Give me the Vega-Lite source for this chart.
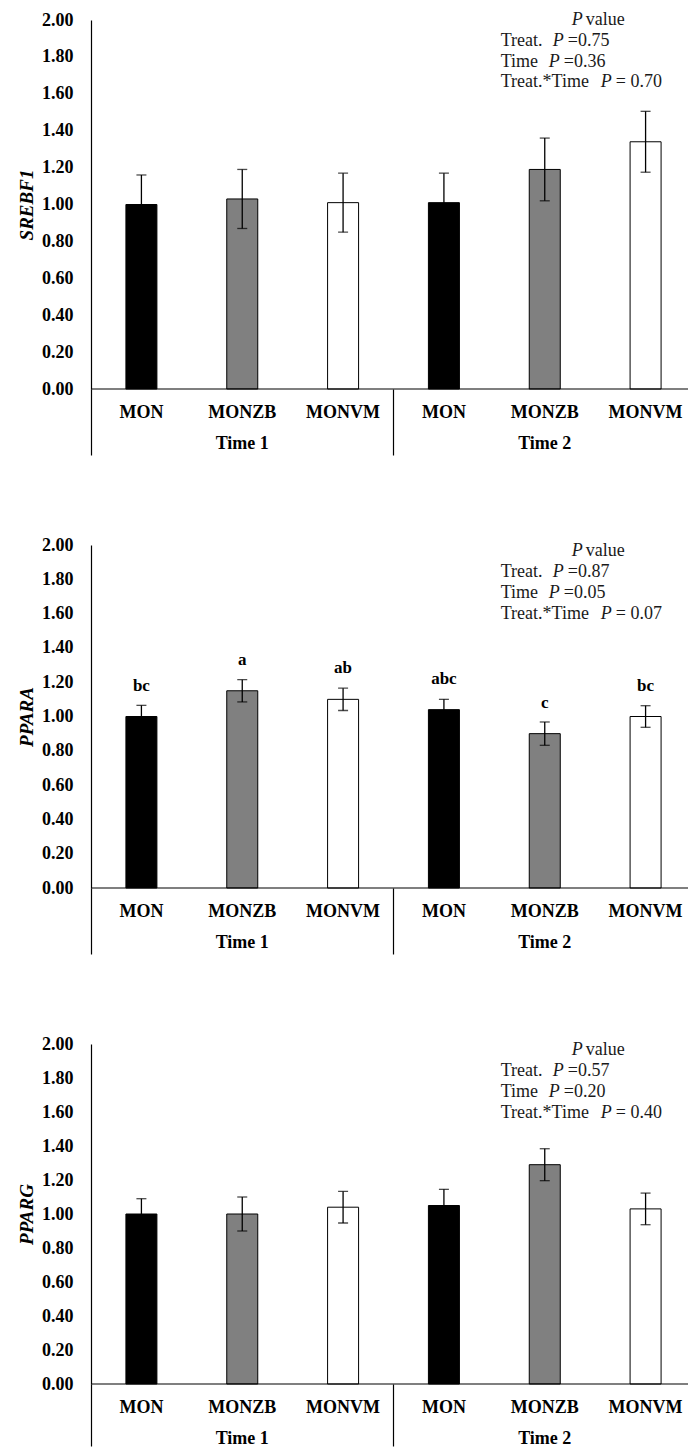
{
  "$schema": "https://vega.github.io/schema/vega-lite/v6.json",
  "background": "white",
  "padding": {"left": 17, "top": 11, "right": 0, "bottom": 0},
  "spacing": 80,
  "config": {"view": {"stroke": null}, "font": "Liberation Serif", "axisY": {"labelOverlap": false, "tickCount": 12}},
  "datasets": {
    "bars": [
      {"gene": "SREBF1", "time": "Time 1", "trt": "MON", "key": "1|MON", "mean": 1.00, "se": 0.16, "letter": ""},
      {"gene": "SREBF1", "time": "Time 1", "trt": "MONZB", "key": "1|MONZB", "mean": 1.03, "se": 0.16, "letter": ""},
      {"gene": "SREBF1", "time": "Time 1", "trt": "MONVM", "key": "1|MONVM", "mean": 1.01, "se": 0.16, "letter": ""},
      {"gene": "SREBF1", "time": "Time 2", "trt": "MON", "key": "2|MON", "mean": 1.01, "se": 0.16, "letter": ""},
      {"gene": "SREBF1", "time": "Time 2", "trt": "MONZB", "key": "2|MONZB", "mean": 1.19, "se": 0.17, "letter": ""},
      {"gene": "SREBF1", "time": "Time 2", "trt": "MONVM", "key": "2|MONVM", "mean": 1.34, "se": 0.165, "letter": ""},
      {"gene": "PPARA", "time": "Time 1", "trt": "MON", "key": "1|MON", "mean": 1.00, "se": 0.065, "letter": "bc"},
      {"gene": "PPARA", "time": "Time 1", "trt": "MONZB", "key": "1|MONZB", "mean": 1.15, "se": 0.065, "letter": "a"},
      {"gene": "PPARA", "time": "Time 1", "trt": "MONVM", "key": "1|MONVM", "mean": 1.10, "se": 0.065, "letter": "ab"},
      {"gene": "PPARA", "time": "Time 2", "trt": "MON", "key": "2|MON", "mean": 1.04, "se": 0.06, "letter": "abc"},
      {"gene": "PPARA", "time": "Time 2", "trt": "MONZB", "key": "2|MONZB", "mean": 0.90, "se": 0.068, "letter": "c"},
      {"gene": "PPARA", "time": "Time 2", "trt": "MONVM", "key": "2|MONVM", "mean": 1.00, "se": 0.063, "letter": "bc"},
      {"gene": "PPARG", "time": "Time 1", "trt": "MON", "key": "1|MON", "mean": 1.00, "se": 0.09, "letter": ""},
      {"gene": "PPARG", "time": "Time 1", "trt": "MONZB", "key": "1|MONZB", "mean": 1.00, "se": 0.10, "letter": ""},
      {"gene": "PPARG", "time": "Time 1", "trt": "MONVM", "key": "1|MONVM", "mean": 1.04, "se": 0.093, "letter": ""},
      {"gene": "PPARG", "time": "Time 2", "trt": "MON", "key": "2|MON", "mean": 1.05, "se": 0.095, "letter": ""},
      {"gene": "PPARG", "time": "Time 2", "trt": "MONZB", "key": "2|MONZB", "mean": 1.29, "se": 0.094, "letter": ""},
      {"gene": "PPARG", "time": "Time 2", "trt": "MONVM", "key": "2|MONVM", "mean": 1.03, "se": 0.093, "letter": ""}
    ],
    "ann": [
      {"gene": "SREBF1", "t1": "=0.75", "t2": "=0.36", "t3": "= 0.70"},
      {"gene": "PPARA", "t1": "=0.87", "t2": "=0.05", "t3": "= 0.07"},
      {"gene": "PPARG", "t1": "=0.57", "t2": "=0.20", "t3": "= 0.40"}
    ],
    "base": [{}]
  },
  "vconcat": [
    {
      "width": 597, "height": 369,
      "resolve": {"scale": {"x": "independent"}, "axis": {"x": "independent"}},
      "layer": [
        {
          "layer": [
            {
              "data": {"name": "bars"},
              "transform": [{"filter": "datum.gene === 'SREBF1'"}],
              "encoding": {
                "x": {"field": "key", "type": "nominal", "scale": {"domain": ["1|MON","1|MONZB","1|MONVM","2|MON","2|MONZB","2|MONVM"], "range": [0, 605], "paddingInner": 0, "paddingOuter": 0},
                  "axis": {"orient": "bottom", "title": null, "domain": false, "ticks": false, "labelPadding": 14, "labelAngle": 0, "labelOverlap": false, "labelExpr": "split(datum.label, '|')[1]", "labelFont": "Liberation Serif", "labelFontWeight": "bold", "labelFontSize": 18, "labelColor": "black"}},
                "y": {"field": "mean", "type": "quantitative", "scale": {"domain": [0, 2], "nice": false},
                  "axis": {"title": "SREBF1", "titleFont": "Liberation Serif", "titleFontStyle": "italic", "titleFontWeight": "bold", "titleFontSize": 19, "titleColor": "black", "titlePadding": 5, "values": [0,0.2,0.4,0.6,0.8,1,1.2,1.4,1.6,1.8,2], "tickCount": 12, "format": ".2f", "labelFont": "Liberation Serif", "labelFontWeight": "bold", "labelFontSize": 18, "labelColor": "black", "labelPadding": 18, "labelOverlap": false, "ticks": false, "tickSize": 0, "grid": false, "domainColor": "black", "domainWidth": 1.2}}
              },
              "layer": [
                {"mark": {"type": "bar", "stroke": "black", "strokeWidth": 1, "width": 31},
                 "encoding": {"color": {"field": "trt", "type": "nominal", "scale": {"domain": ["MON","MONZB","MONVM"], "range": ["#000000","#808080","#ffffff"]}, "legend": null}}},
                {"mark": {"type": "errorbar", "color": "black", "ticks": {"size": 10, "thickness": 1.3, "color": "black"}, "rule": {"strokeWidth": 1.3, "color": "black"}},
                 "encoding": {"yError": {"field": "se"}}},
                {"transform": [{"filter": "datum.letter"}],
                 "mark": {"type": "text", "dy": -31, "font": "Liberation Serif", "fontWeight": "bold", "fontSize": 17, "color": "black", "baseline": "middle"},
                 "encoding": {"text": {"field": "letter"}}}
              ]
            },
            {
              "data": {"name": "base"},
              "mark": {"type": "rule", "color": "black", "strokeWidth": 1.2},
              "encoding": {"y": {"datum": 0, "type": "quantitative"}}
            },
            {
              "data": {"name": "ann"},
              "transform": [{"filter": "datum.gene === 'SREBF1'"}],
              "encoding": {
                "x": {"datum": "2|MONZB", "type": "nominal"},
                "y": {"datum": 2, "type": "quantitative"}
              },
              "layer": [
                {"mark": {"type": "text", "text": "P", "fontStyle": "italic", "dx": 27, "dy": 0, "align": "left", "baseline": "middle", "font": "Liberation Serif", "fontSize": 18, "color": "#1a1a1a"}},
                {"mark": {"type": "text", "text": "value", "dx": 41, "dy": 0, "align": "left", "baseline": "middle", "font": "Liberation Serif", "fontSize": 18, "color": "#1a1a1a"}},
                {"mark": {"type": "text", "text": "Treat.", "dx": -44, "dy": 20.5, "align": "left", "baseline": "middle", "font": "Liberation Serif", "fontSize": 18, "color": "#1a1a1a"}},
                {"mark": {"type": "text", "text": "P", "fontStyle": "italic", "dx": 8, "dy": 20.5, "align": "left", "baseline": "middle", "font": "Liberation Serif", "fontSize": 18, "color": "#1a1a1a"}},
                {"mark": {"type": "text", "dx": 23, "dy": 20.5, "align": "left", "baseline": "middle", "font": "Liberation Serif", "fontSize": 18, "color": "#1a1a1a"}, "encoding": {"text": {"field": "t1"}}},
                {"mark": {"type": "text", "text": "Time", "dx": -44, "dy": 41.5, "align": "left", "baseline": "middle", "font": "Liberation Serif", "fontSize": 18, "color": "#1a1a1a"}},
                {"mark": {"type": "text", "text": "P", "fontStyle": "italic", "dx": 4, "dy": 41.5, "align": "left", "baseline": "middle", "font": "Liberation Serif", "fontSize": 18, "color": "#1a1a1a"}},
                {"mark": {"type": "text", "dx": 19, "dy": 41.5, "align": "left", "baseline": "middle", "font": "Liberation Serif", "fontSize": 18, "color": "#1a1a1a"}, "encoding": {"text": {"field": "t2"}}},
                {"mark": {"type": "text", "text": "Treat.*Time", "dx": -44, "dy": 62, "align": "left", "baseline": "middle", "font": "Liberation Serif", "fontSize": 18, "color": "#1a1a1a"}},
                {"mark": {"type": "text", "text": "P", "fontStyle": "italic", "dx": 56, "dy": 62, "align": "left", "baseline": "middle", "font": "Liberation Serif", "fontSize": 18, "color": "#1a1a1a"}},
                {"mark": {"type": "text", "dx": 71, "dy": 62, "align": "left", "baseline": "middle", "font": "Liberation Serif", "fontSize": 18, "color": "#1a1a1a"}, "encoding": {"text": {"field": "t3"}}}
              ]
            }
          ]
        },
        {
          "data": {"name": "bars"},
          "transform": [{"filter": "datum.gene === 'SREBF1'"}],
          "mark": {"type": "rule", "opacity": 0},
          "encoding": {
            "x": {"field": "time", "type": "nominal", "scale": {"domain": ["Time 1", "Time 2"], "range": [0, 605], "paddingInner": 0, "paddingOuter": 0},
              "axis": {"orient": "bottom", "title": null, "domain": false, "ticks": true, "tickSize": 66, "tickColor": "black", "tickWidth": 1.2, "bandPosition": 0, "labelPadding": -21, "labelAngle": 0, "labelFont": "Liberation Serif", "labelFontWeight": "bold", "labelFontSize": 18, "labelColor": "black"}}
          }
        }
      ]
    },
    {
      "width": 597, "height": 343,
      "resolve": {"scale": {"x": "independent"}, "axis": {"x": "independent"}},
      "layer": [
        {
          "layer": [
            {
              "data": {"name": "bars"},
              "transform": [{"filter": "datum.gene === 'PPARA'"}],
              "encoding": {
                "x": {"field": "key", "type": "nominal", "scale": {"domain": ["1|MON","1|MONZB","1|MONVM","2|MON","2|MONZB","2|MONVM"], "range": [0, 605], "paddingInner": 0, "paddingOuter": 0},
                  "axis": {"orient": "bottom", "title": null, "domain": false, "ticks": false, "labelPadding": 14, "labelAngle": 0, "labelOverlap": false, "labelExpr": "split(datum.label, '|')[1]", "labelFont": "Liberation Serif", "labelFontWeight": "bold", "labelFontSize": 18, "labelColor": "black"}},
                "y": {"field": "mean", "type": "quantitative", "scale": {"domain": [0, 2], "nice": false},
                  "axis": {"title": "PPARA", "titleFont": "Liberation Serif", "titleFontStyle": "italic", "titleFontWeight": "bold", "titleFontSize": 19, "titleColor": "black", "titlePadding": 5, "values": [0,0.2,0.4,0.6,0.8,1,1.2,1.4,1.6,1.8,2], "tickCount": 12, "format": ".2f", "labelFont": "Liberation Serif", "labelFontWeight": "bold", "labelFontSize": 18, "labelColor": "black", "labelPadding": 18, "labelOverlap": false, "ticks": false, "tickSize": 0, "grid": false, "domainColor": "black", "domainWidth": 1.2}}
              },
              "layer": [
                {"mark": {"type": "bar", "stroke": "black", "strokeWidth": 1, "width": 31},
                 "encoding": {"color": {"field": "trt", "type": "nominal", "scale": {"domain": ["MON","MONZB","MONVM"], "range": ["#000000","#808080","#ffffff"]}, "legend": null}}},
                {"mark": {"type": "errorbar", "color": "black", "ticks": {"size": 10, "thickness": 1.3, "color": "black"}, "rule": {"strokeWidth": 1.3, "color": "black"}},
                 "encoding": {"yError": {"field": "se"}}},
                {"transform": [{"filter": "datum.letter"}],
                 "mark": {"type": "text", "dy": -31, "font": "Liberation Serif", "fontWeight": "bold", "fontSize": 17, "color": "black", "baseline": "middle"},
                 "encoding": {"text": {"field": "letter"}}}
              ]
            },
            {
              "data": {"name": "base"},
              "mark": {"type": "rule", "color": "black", "strokeWidth": 1.2},
              "encoding": {"y": {"datum": 0, "type": "quantitative"}}
            },
            {
              "data": {"name": "ann"},
              "transform": [{"filter": "datum.gene === 'PPARA'"}],
              "encoding": {
                "x": {"datum": "2|MONZB", "type": "nominal"},
                "y": {"datum": 2, "type": "quantitative"}
              },
              "layer": [
                {"mark": {"type": "text", "text": "P", "fontStyle": "italic", "dx": 27, "dy": 6, "align": "left", "baseline": "middle", "font": "Liberation Serif", "fontSize": 18, "color": "#1a1a1a"}},
                {"mark": {"type": "text", "text": "value", "dx": 41, "dy": 6, "align": "left", "baseline": "middle", "font": "Liberation Serif", "fontSize": 18, "color": "#1a1a1a"}},
                {"mark": {"type": "text", "text": "Treat.", "dx": -44, "dy": 27, "align": "left", "baseline": "middle", "font": "Liberation Serif", "fontSize": 18, "color": "#1a1a1a"}},
                {"mark": {"type": "text", "text": "P", "fontStyle": "italic", "dx": 8, "dy": 27, "align": "left", "baseline": "middle", "font": "Liberation Serif", "fontSize": 18, "color": "#1a1a1a"}},
                {"mark": {"type": "text", "dx": 23, "dy": 27, "align": "left", "baseline": "middle", "font": "Liberation Serif", "fontSize": 18, "color": "#1a1a1a"}, "encoding": {"text": {"field": "t1"}}},
                {"mark": {"type": "text", "text": "Time", "dx": -44, "dy": 48, "align": "left", "baseline": "middle", "font": "Liberation Serif", "fontSize": 18, "color": "#1a1a1a"}},
                {"mark": {"type": "text", "text": "P", "fontStyle": "italic", "dx": 4, "dy": 48, "align": "left", "baseline": "middle", "font": "Liberation Serif", "fontSize": 18, "color": "#1a1a1a"}},
                {"mark": {"type": "text", "dx": 19, "dy": 48, "align": "left", "baseline": "middle", "font": "Liberation Serif", "fontSize": 18, "color": "#1a1a1a"}, "encoding": {"text": {"field": "t2"}}},
                {"mark": {"type": "text", "text": "Treat.*Time", "dx": -44, "dy": 69, "align": "left", "baseline": "middle", "font": "Liberation Serif", "fontSize": 18, "color": "#1a1a1a"}},
                {"mark": {"type": "text", "text": "P", "fontStyle": "italic", "dx": 56, "dy": 69, "align": "left", "baseline": "middle", "font": "Liberation Serif", "fontSize": 18, "color": "#1a1a1a"}},
                {"mark": {"type": "text", "dx": 71, "dy": 69, "align": "left", "baseline": "middle", "font": "Liberation Serif", "fontSize": 18, "color": "#1a1a1a"}, "encoding": {"text": {"field": "t3"}}}
              ]
            }
          ]
        },
        {
          "data": {"name": "bars"},
          "transform": [{"filter": "datum.gene === 'PPARA'"}],
          "mark": {"type": "rule", "opacity": 0},
          "encoding": {
            "x": {"field": "time", "type": "nominal", "scale": {"domain": ["Time 1", "Time 2"], "range": [0, 605], "paddingInner": 0, "paddingOuter": 0},
              "axis": {"orient": "bottom", "title": null, "domain": false, "ticks": true, "tickSize": 66, "tickColor": "black", "tickWidth": 1.2, "bandPosition": 0, "labelPadding": -21, "labelAngle": 0, "labelFont": "Liberation Serif", "labelFontWeight": "bold", "labelFontSize": 18, "labelColor": "black"}}
          }
        }
      ]
    },
    {
      "width": 597, "height": 340,
      "resolve": {"scale": {"x": "independent"}, "axis": {"x": "independent"}},
      "layer": [
        {
          "layer": [
            {
              "data": {"name": "bars"},
              "transform": [{"filter": "datum.gene === 'PPARG'"}],
              "encoding": {
                "x": {"field": "key", "type": "nominal", "scale": {"domain": ["1|MON","1|MONZB","1|MONVM","2|MON","2|MONZB","2|MONVM"], "range": [0, 605], "paddingInner": 0, "paddingOuter": 0},
                  "axis": {"orient": "bottom", "title": null, "domain": false, "ticks": false, "labelPadding": 14, "labelAngle": 0, "labelOverlap": false, "labelExpr": "split(datum.label, '|')[1]", "labelFont": "Liberation Serif", "labelFontWeight": "bold", "labelFontSize": 18, "labelColor": "black"}},
                "y": {"field": "mean", "type": "quantitative", "scale": {"domain": [0, 2], "nice": false},
                  "axis": {"title": "PPARG", "titleFont": "Liberation Serif", "titleFontStyle": "italic", "titleFontWeight": "bold", "titleFontSize": 19, "titleColor": "black", "titlePadding": 5, "values": [0,0.2,0.4,0.6,0.8,1,1.2,1.4,1.6,1.8,2], "tickCount": 12, "format": ".2f", "labelFont": "Liberation Serif", "labelFontWeight": "bold", "labelFontSize": 18, "labelColor": "black", "labelPadding": 18, "labelOverlap": false, "ticks": false, "tickSize": 0, "grid": false, "domainColor": "black", "domainWidth": 1.2}}
              },
              "layer": [
                {"mark": {"type": "bar", "stroke": "black", "strokeWidth": 1, "width": 31},
                 "encoding": {"color": {"field": "trt", "type": "nominal", "scale": {"domain": ["MON","MONZB","MONVM"], "range": ["#000000","#808080","#ffffff"]}, "legend": null}}},
                {"mark": {"type": "errorbar", "color": "black", "ticks": {"size": 10, "thickness": 1.3, "color": "black"}, "rule": {"strokeWidth": 1.3, "color": "black"}},
                 "encoding": {"yError": {"field": "se"}}},
                {"transform": [{"filter": "datum.letter"}],
                 "mark": {"type": "text", "dy": -31, "font": "Liberation Serif", "fontWeight": "bold", "fontSize": 17, "color": "black", "baseline": "middle"},
                 "encoding": {"text": {"field": "letter"}}}
              ]
            },
            {
              "data": {"name": "base"},
              "mark": {"type": "rule", "color": "black", "strokeWidth": 1.2},
              "encoding": {"y": {"datum": 0, "type": "quantitative"}}
            },
            {
              "data": {"name": "ann"},
              "transform": [{"filter": "datum.gene === 'PPARG'"}],
              "encoding": {
                "x": {"datum": "2|MONZB", "type": "nominal"},
                "y": {"datum": 2, "type": "quantitative"}
              },
              "layer": [
                {"mark": {"type": "text", "text": "P", "fontStyle": "italic", "dx": 27, "dy": 6, "align": "left", "baseline": "middle", "font": "Liberation Serif", "fontSize": 18, "color": "#1a1a1a"}},
                {"mark": {"type": "text", "text": "value", "dx": 41, "dy": 6, "align": "left", "baseline": "middle", "font": "Liberation Serif", "fontSize": 18, "color": "#1a1a1a"}},
                {"mark": {"type": "text", "text": "Treat.", "dx": -44, "dy": 27, "align": "left", "baseline": "middle", "font": "Liberation Serif", "fontSize": 18, "color": "#1a1a1a"}},
                {"mark": {"type": "text", "text": "P", "fontStyle": "italic", "dx": 8, "dy": 27, "align": "left", "baseline": "middle", "font": "Liberation Serif", "fontSize": 18, "color": "#1a1a1a"}},
                {"mark": {"type": "text", "dx": 23, "dy": 27, "align": "left", "baseline": "middle", "font": "Liberation Serif", "fontSize": 18, "color": "#1a1a1a"}, "encoding": {"text": {"field": "t1"}}},
                {"mark": {"type": "text", "text": "Time", "dx": -44, "dy": 48, "align": "left", "baseline": "middle", "font": "Liberation Serif", "fontSize": 18, "color": "#1a1a1a"}},
                {"mark": {"type": "text", "text": "P", "fontStyle": "italic", "dx": 4, "dy": 48, "align": "left", "baseline": "middle", "font": "Liberation Serif", "fontSize": 18, "color": "#1a1a1a"}},
                {"mark": {"type": "text", "dx": 19, "dy": 48, "align": "left", "baseline": "middle", "font": "Liberation Serif", "fontSize": 18, "color": "#1a1a1a"}, "encoding": {"text": {"field": "t2"}}},
                {"mark": {"type": "text", "text": "Treat.*Time", "dx": -44, "dy": 69, "align": "left", "baseline": "middle", "font": "Liberation Serif", "fontSize": 18, "color": "#1a1a1a"}},
                {"mark": {"type": "text", "text": "P", "fontStyle": "italic", "dx": 56, "dy": 69, "align": "left", "baseline": "middle", "font": "Liberation Serif", "fontSize": 18, "color": "#1a1a1a"}},
                {"mark": {"type": "text", "dx": 71, "dy": 69, "align": "left", "baseline": "middle", "font": "Liberation Serif", "fontSize": 18, "color": "#1a1a1a"}, "encoding": {"text": {"field": "t3"}}}
              ]
            }
          ]
        },
        {
          "data": {"name": "bars"},
          "transform": [{"filter": "datum.gene === 'PPARG'"}],
          "mark": {"type": "rule", "opacity": 0},
          "encoding": {
            "x": {"field": "time", "type": "nominal", "scale": {"domain": ["Time 1", "Time 2"], "range": [0, 605], "paddingInner": 0, "paddingOuter": 0},
              "axis": {"orient": "bottom", "title": null, "domain": false, "ticks": true, "tickSize": 62, "tickColor": "black", "tickWidth": 1.2, "bandPosition": 0, "labelPadding": -17, "labelAngle": 0, "labelFont": "Liberation Serif", "labelFontWeight": "bold", "labelFontSize": 18, "labelColor": "black"}}
          }
        }
      ]
    }
  ]
}
